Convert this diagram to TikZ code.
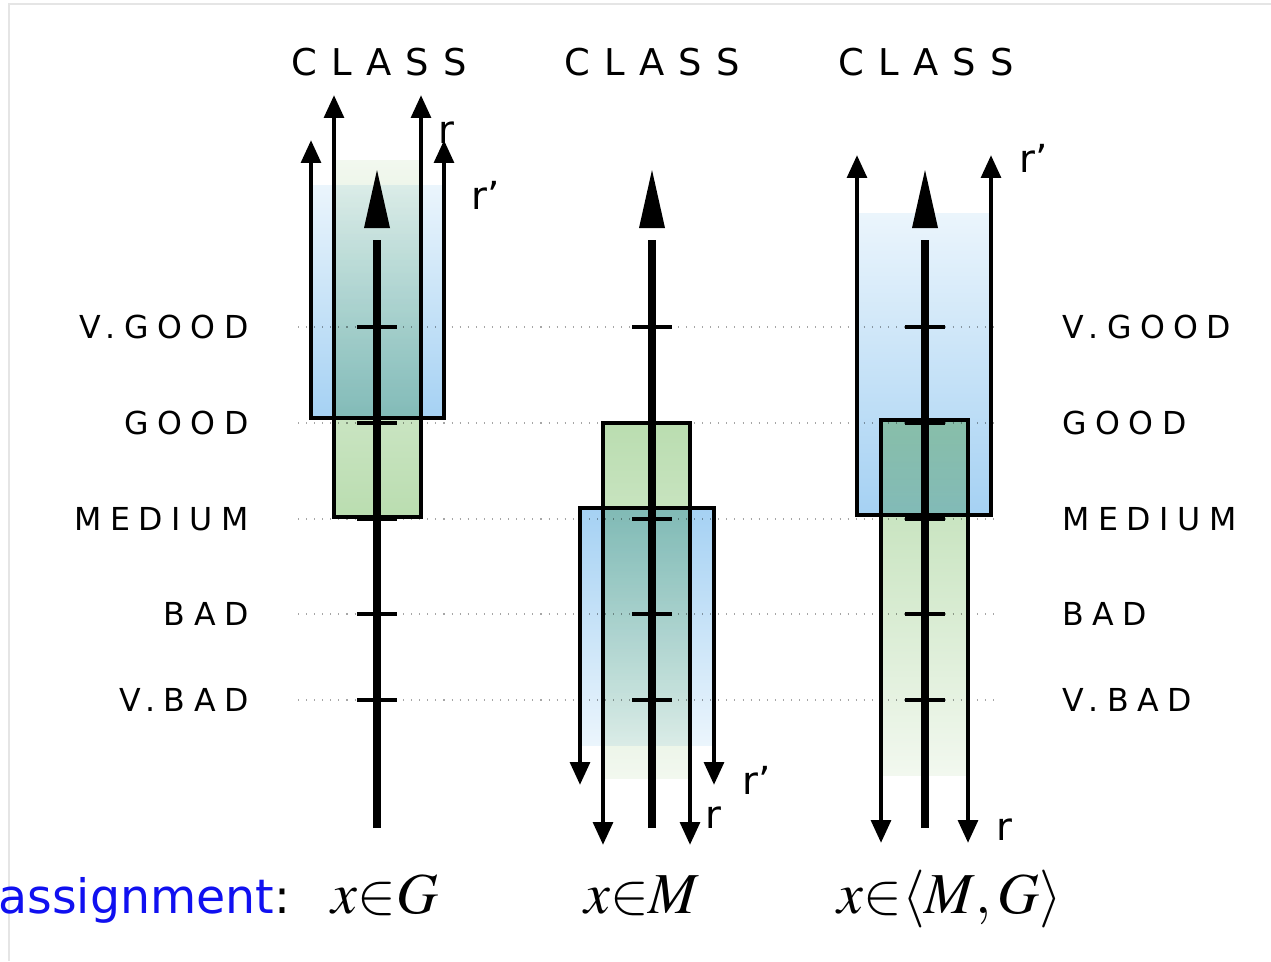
\documentclass[tikz,border=0pt]{standalone}
\usepackage{mathptmx}
\usepackage{fontspec}
\usetikzlibrary{arrows.meta}

\newfontfamily\gradefont[LetterSpace=27]{DejaVu Sans}
\newfontfamily\classfont[LetterSpace=38]{DejaVu Sans}
\newfontfamily\plainsans{DejaVu Sans}

\definecolor{blueDeep}{HTML}{A5D1F3}
\definecolor{blueFade}{HTML}{EBF5FC}
\definecolor{greenDeep}{HTML}{BADDB0}
\definecolor{greenFade}{HTML}{F2F8EF}
\definecolor{assignBlue}{HTML}{1010F0}

\tikzset{
  grade/.style={font=\gradefont\fontsize{18}{20}\selectfont, inner sep=0pt},
  classlabel/.style={font=\classfont\fontsize{21}{23}\selectfont, inner sep=0pt},
  rlabel/.style={font=\plainsans\fontsize{22}{24}\selectfont, inner sep=0pt},
  formula/.style={font=\fontsize{33}{35}\selectfont, inner sep=0pt, anchor=base},
  levelline/.style={gray!70, line width=0.6pt, dash pattern=on 0.6pt off 4pt},
  rline/.style={line width=2.6pt, line join=miter},
  axisline/.style={line width=4pt},
  tickmark/.style={line width=2.4pt}
}

\begin{document}
\begin{tikzpicture}[x=0.02cm, y=-0.02cm, >={Triangle[width=11pt,length=13pt]}]
  \useasboundingbox (0,0) rectangle (1271,961);

  % --- 1. frame and levels ---
  \draw[black!10, line width=1.5pt] (9,961) -- (9,4) -- (1271,4);

  \def\yVG{327}
  \def\yG{423}
  \def\yM{519}
  \def\yB{614}
  \def\yVB{700}

  \draw[levelline] (298,\yVG) -- (1000,\yVG);
  \draw[levelline] (298,\yG) -- (1000,\yG);
  \draw[levelline] (298,\yM) -- (1000,\yM);
  \draw[levelline] (298,\yB) -- (1000,\yB);
  \draw[levelline] (298,\yVB) -- (1000,\yVB);

  \node[grade, anchor=east] at (249,\yVG) {V.GOOD};
  \node[grade, anchor=east] at (249,\yG) {GOOD};
  \node[grade, anchor=east] at (249,\yM) {MEDIUM};
  \node[grade, anchor=east] at (249,\yB) {BAD};
  \node[grade, anchor=east] at (249,\yVB) {V.BAD};

  \node[grade, anchor=west] at (1062,\yVG) {V.GOOD};
  \node[grade, anchor=west] at (1062,\yG) {GOOD};
  \node[grade, anchor=west] at (1062,\yM) {MEDIUM};
  \node[grade, anchor=west] at (1062,\yB) {BAD};
  \node[grade, anchor=west] at (1062,\yVB) {V.BAD};

  \node[classlabel] at (379,62) {CLASS};
  \node[classlabel] at (652,62) {CLASS};
  \node[classlabel] at (926,62) {CLASS};

  % --- 2. shaded bands (r' blue, r green) ---
  \begin{scope}[blend mode=multiply]
    \shade[top color=blueFade, bottom color=blueDeep] (311,185) rectangle (444,418);
    \shade[top color=greenFade, bottom color=greenDeep] (334,160) rectangle (421,517);

    \shade[top color=greenDeep, bottom color=greenFade] (603,423) rectangle (690,778);
    \shade[top color=blueDeep, bottom color=blueFade] (580,508) rectangle (714,745);

    \shade[top color=blueFade, bottom color=blueDeep] (857,213) rectangle (991,515);
    \shade[top color=greenDeep, bottom color=greenFade] (881,420) rectangle (968,775);
  \end{scope}

  % --- 3. class axes with ticks ---
  \draw[axisline] (377,828) -- (377,240);
  \fill (364,228) -- (377,170) -- (390,228) -- cycle;
  \draw[axisline] (652,828) -- (652,240);
  \fill (639,228) -- (652,170) -- (665,228) -- cycle;
  \draw[axisline] (925,828) -- (925,240);
  \fill (912,228) -- (925,170) -- (938,228) -- cycle;

  \draw[tickmark] (357,\yVG) -- (397,\yVG);
  \draw[tickmark] (357,\yG) -- (397,\yG);
  \draw[tickmark] (357,\yM) -- (397,\yM);
  \draw[tickmark] (357,\yB) -- (397,\yB);
  \draw[tickmark] (357,\yVB) -- (397,\yVB);

  \draw[tickmark] (632,\yVG) -- (672,\yVG);
  \draw[tickmark] (632,\yG) -- (672,\yG);
  \draw[tickmark] (632,\yM) -- (672,\yM);
  \draw[tickmark] (632,\yB) -- (672,\yB);
  \draw[tickmark] (632,\yVB) -- (672,\yVB);

  \draw[tickmark] (905,\yVG) -- (945,\yVG);
  \draw[tickmark] (905,\yG) -- (945,\yG);
  \draw[tickmark] (905,\yM) -- (945,\yM);
  \draw[tickmark] (905,\yB) -- (945,\yB);
  \draw[tickmark] (905,\yVB) -- (945,\yVB);

  % --- 4. ranges r and r' ---
  % x in G
  \draw[rline, <->] (311,140) -- (311,418) -- (444,418) -- (444,140);
  \draw[rline, <->] (334,95) -- (334,517) -- (421,517) -- (421,95);
  \node[rlabel] (r1) at (446,133) {r};
  \node[rlabel] (rp1) at (486,195) {r’};

  % x in M
  \draw[rline, <->] (603,845) -- (603,423) -- (690,423) -- (690,845);
  \draw[rline, <->] (580,785) -- (580,508) -- (714,508) -- (714,785);
  \node[rlabel] (rp2) at (757,780) {r’};
  \node[rlabel] (r2) at (713,818) {r};

  % x in <M,G>
  \draw[rline, <->] (857,155) -- (857,515) -- (991,515) -- (991,155);
  \draw[rline, <->] (881,843) -- (881,420) -- (968,420) -- (968,843);
  \node[rlabel] (rp3) at (1034,158) {r’};
  \node[rlabel] (r3) at (1004,830) {r};

  % --- 5. assignment ---
  \node[anchor=base west, inner sep=0pt, font=\plainsans\fontsize{27}{29}\selectfont]
    (assign) at (-2,913) {\textcolor{assignBlue}{assignment}:};
  \node[formula] (fG) at (385,913) {$x{\in}G$};
  \node[formula] (fM) at (642,913) {$x{\in}M$};
  \node[formula] (fMG) at (950,913) {$x{\in}\langle M,G\rangle$};

\end{tikzpicture}
\end{document}
